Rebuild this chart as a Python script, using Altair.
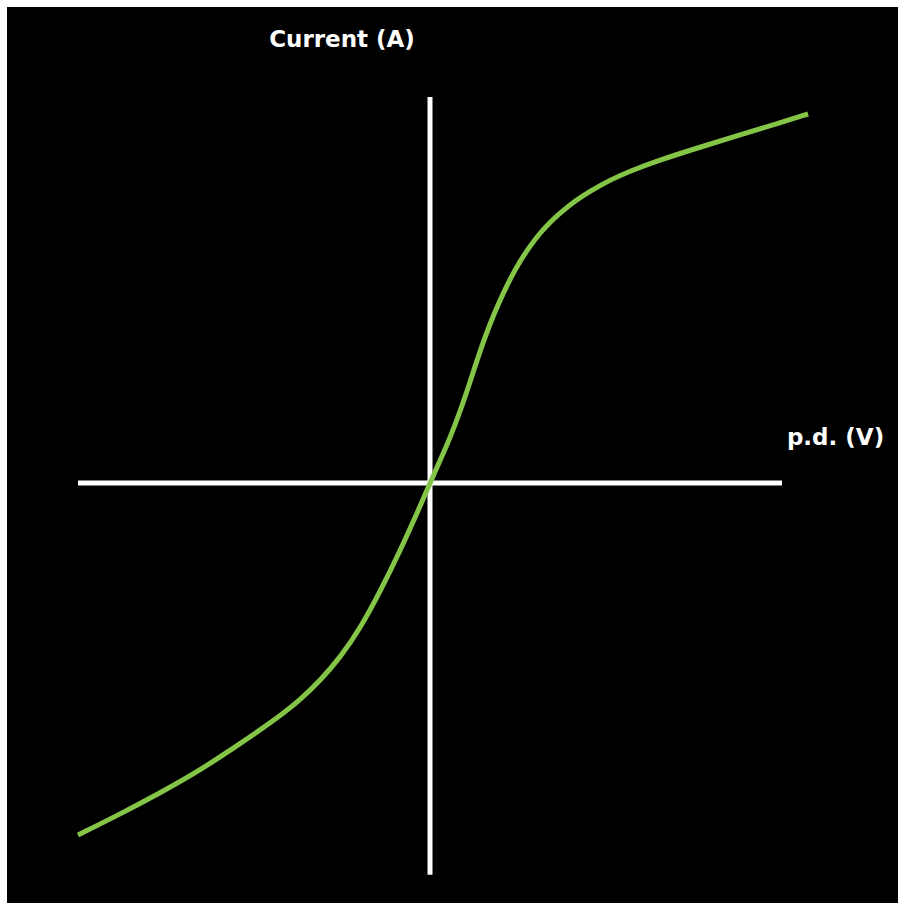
import altair as alt
import pandas as pd

# I-V characteristic of a filament-type component: p.d. (V) against current (A)
pd_volts = [-10.00, -8.81, -7.67, -6.53, -5.40, -4.26, -3.69, -3.13, -2.56, -1.99,
            -1.42, -0.85, -0.28, 0.00, 0.28, 0.57, 0.85, 1.14, 1.42, 1.70,
            1.99, 2.27, 2.56, 2.84, 3.13, 3.41, 3.69, 4.12, 4.55, 5.11,
            5.68, 6.53, 7.67, 8.81, 9.94, 10.74]
current_amps = [-9.12, -8.58, -8.03, -7.44, -6.76, -6.04, -5.62, -5.13, -4.53, -3.78,
                -2.82, -1.76, -0.60, 0.00, 0.57, 1.17, 1.84, 2.62, 3.42, 4.12,
                4.74, 5.28, 5.75, 6.14, 6.48, 6.76, 6.99, 7.31, 7.56, 7.85,
                8.08, 8.37, 8.70, 9.02, 9.33, 9.56]

# hand-drawn axes through the origin
x_axis_span = [-10.0, 10.0]
y_axis_span = [-10.15, 10.0]

# axis captions
label_text = ["Current (A)", "p.d. (V)"]
label_x = [-2.5, 11.52]
label_y = [11.3, 0.98]

X_DOMAIN = [-12.017, 13.295]
Y_DOMAIN = [-10.881, 12.332]

curve_df = pd.DataFrame({"v": pd_volts, "i": current_amps, "order": range(len(pd_volts))})
axes_df = pd.DataFrame({
    "x": [x_axis_span[0], 0.0],
    "x2": [x_axis_span[1], 0.0],
    "y": [0.0, y_axis_span[0]],
    "y2": [0.0, y_axis_span[1]],
})
labels_df = pd.DataFrame({"t": label_text, "x": label_x, "y": label_y})

xs = alt.Scale(domain=X_DOMAIN, nice=False, zero=False)
ys = alt.Scale(domain=Y_DOMAIN, nice=False, zero=False)

axes = alt.Chart(axes_df).mark_rule(color="white", strokeWidth=5, strokeCap="butt").encode(
    x=alt.X("x:Q", scale=xs, axis=None),
    x2="x2:Q",
    y=alt.Y("y:Q", scale=ys, axis=None),
    y2="y2:Q",
)

curve = alt.Chart(curve_df).mark_line(
    color="#84c446", strokeWidth=5, interpolate="basis", strokeCap="butt"
).encode(
    x=alt.X("v:Q", scale=xs, axis=None),
    y=alt.Y("i:Q", scale=ys, axis=None),
    order="order:Q",
)

labels = alt.Chart(labels_df).mark_text(
    color="white", font="DejaVu Sans", fontWeight="bold", fontSize=23,
    align="center", baseline="alphabetic",
).encode(
    x=alt.X("x:Q", scale=xs, axis=None),
    y=alt.Y("y:Q", scale=ys, axis=None),
    text="t:N",
)

chart = alt.layer(axes, curve, labels).properties(
    width=898,
    height=903,
    autosize=alt.AutoSizeParams(type="fit", contains="padding"),
    padding={"left": 7, "top": 7, "right": 0, "bottom": 0},
    background="white",
).configure_view(fill="black", stroke=None)

chart.save("out.html", embed_options={"renderer": "svg", "actions": False})
